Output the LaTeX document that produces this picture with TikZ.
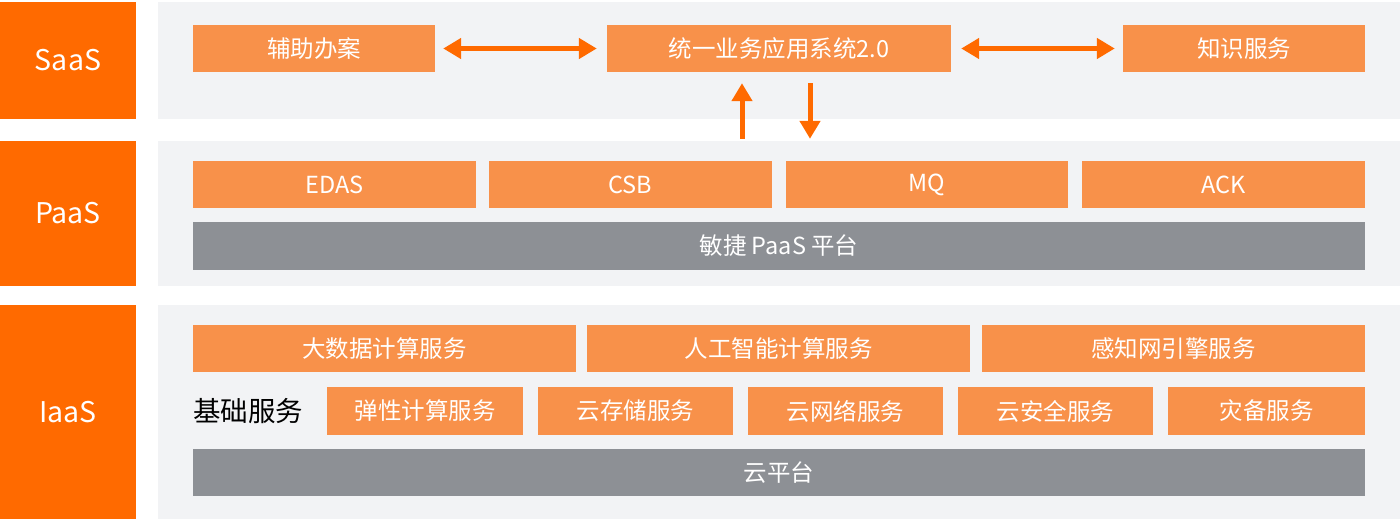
\documentclass[tikz,border=0pt]{standalone}
\usepackage{fontspec}
\setmainfont{Noto Sans CJK SC}
\usepackage{tikz}
\usetikzlibrary{arrows.meta,positioning,calc}

\definecolor{layerorange}{HTML}{FF6A00}
\definecolor{boxorange}{HTML}{F8914A}
\definecolor{panelgray}{HTML}{F2F3F5}
\definecolor{bargray}{HTML}{8D9095}

\begin{document}
\begin{tikzpicture}[x=1pt,y=-1pt,
    layer/.style={fill=layerorange, text=white, minimum width=136pt, inner sep=0pt,
      font=\fontsize{28.5}{32}\selectfont},
    panel/.style={fill=panelgray, minimum width=1242pt, inner sep=0pt},
    obox/.style={fill=boxorange, text=white, minimum height=47pt, inner sep=0pt,
      font=\fontsize{23.5}{27}\selectfont},
    gbar/.style={fill=bargray, text=white, minimum width=1172pt, minimum height=48pt,
      inner sep=0pt, font=\fontsize{23.5}{27}\selectfont},
    flow/.style={draw=layerorange, line width=5pt,
      -{Triangle[width=20pt,length=18pt]}}]
    \useasboundingbox (0,0) rectangle (1400,519);

    % layers and their panels
    \node[layer, minimum height=117pt] (saas) at (68,60.5) {SaaS};
    \node[layer, minimum height=145pt] (paas) at (68,213.5) {PaaS};
    \node[layer, minimum height=214pt] (iaas) at (68,412) {IaaS};
    \node[panel, minimum height=117pt] (saasbg) at (779,60.5) {};
    \node[panel, minimum height=145pt] (paasbg) at (779,213.5) {};
    \node[panel, minimum height=214pt] (iaasbg) at (779,412) {};

    % SaaS
    \node[obox, minimum width=242pt] (fzba) at (314,48.5) {辅助办案};
    \node[obox, minimum width=344pt] (tyyw) at (779,48.5) {统一业务应用系统2.0};
    \node[obox, minimum width=242pt] (zsfw) at (1244,48.5) {知识服务};
    \draw[flow, {Triangle[width=20pt,length=18pt]}-{Triangle[width=20pt,length=18pt]},
      shorten <=8pt, shorten >=10pt] (fzba.east) -- (tyyw.west);
    \draw[flow, {Triangle[width=20pt,length=18pt]}-{Triangle[width=20pt,length=18pt]},
      shorten <=10pt, shorten >=8pt] (tyyw.east) -- (zsfw.west);
    \draw[flow, shorten <=2pt, shorten >=11pt] (paasbg.north -| 742,0) -- (tyyw.south -| 742,0);
    \draw[flow, shorten <=11pt, shorten >=2pt] (tyyw.south -| 810,0) -- (paasbg.north -| 810,0);

    % PaaS
    \node[obox, minimum width=283pt] (edas) at (334.5,184.5) {EDAS};
    \node[obox, minimum width=283pt] (csb) at (630.5,184.5) {CSB};
    \node[obox, minimum width=282pt] (mq) at (927,184.5) {MQ};
    \node[obox, minimum width=283pt] (ack) at (1223.5,184.5) {ACK};
    \node[gbar] (mjpt) at (779,246) {敏捷 PaaS 平台};

    % IaaS
    \node[obox, minimum width=383pt] (dsj) at (384.5,348.5) {大数据计算服务};
    \node[obox, minimum width=383pt] (rgzn) at (778.5,348.5) {人工智能计算服务};
    \node[obox, minimum width=383pt] (gzw) at (1173.5,348.5) {感知网引擎服务};
    \node[anchor=west, inner sep=0pt, font=\fontsize{27.5}{30}\selectfont] (jcfw) at (193,411) {基础服务};
    \node[obox, minimum width=196pt, minimum height=48pt] (txjs) at (425,411) {弹性计算服务};
    \node[obox, minimum width=195pt, minimum height=48pt] (ycc) at (635.5,411) {云存储服务};
    \node[obox, minimum width=195pt, minimum height=48pt] (ywl) at (845.5,411) {云网络服务};
    \node[obox, minimum width=195pt, minimum height=48pt] (yaq) at (1055.5,411) {云安全服务};
    \node[obox, minimum width=197pt, minimum height=48pt] (zbfw) at (1266.5,411) {灾备服务};
    \node[gbar, minimum height=47pt] (ypt) at (779,472.5) {云平台};
\end{tikzpicture}
\end{document}
